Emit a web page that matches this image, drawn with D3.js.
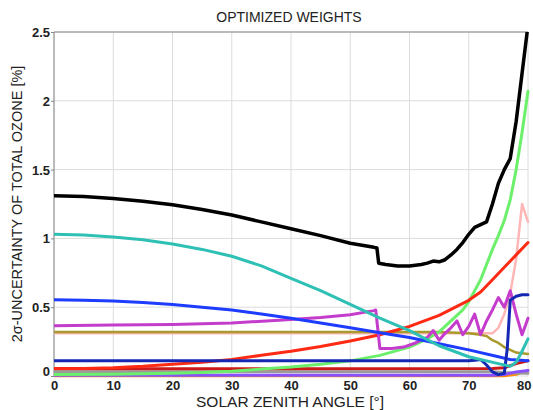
<!DOCTYPE html>
<html>
<head>
<meta charset="utf-8">
<script src="https://cdn.jsdelivr.net/npm/d3@7"></script>
<style>
  html, body { margin: 0; padding: 0; background: #fff; }
  svg { display: block; }
  text { font-family: "Liberation Sans", Arial, sans-serif; fill: #222; }
</style>
</head>
<body>
<svg id="chart" width="533" height="410"></svg>
<script>
// ---------- data ----------
const title = "OPTIMIZED WEIGHTS";
const xLabel = "SOLAR ZENITH ANGLE [°]";
const yLabel = "2σ-UNCERTAINTY OF TOTAL OZONE [%]";
const xTicks = [0, 10, 20, 30, 40, 50, 60, 70, 80];
const yTicks = [0, 0.5, 1, 1.5, 2, 2.5];

const blackX = [0, 5, 10, 15, 20, 25, 30, 35, 40, 45, 50, 52, 54, 54.5, 54.8, 56, 58, 60, 62, 63, 64, 65, 66, 67, 68, 69, 70, 71, 72, 73, 74, 75, 76, 77, 78, 79, 80];
const blackY = [1.31, 1.305, 1.29, 1.27, 1.245, 1.21, 1.17, 1.12, 1.07, 1.02, 0.965, 0.95, 0.935, 0.93, 0.82, 0.81, 0.80, 0.80, 0.81, 0.82, 0.835, 0.83, 0.845, 0.88, 0.92, 0.97, 1.03, 1.08, 1.10, 1.12, 1.25, 1.40, 1.50, 1.58, 1.85, 2.2, 2.55];

const cyanX = [0, 5, 10, 15, 20, 25, 30, 35, 40, 45, 50, 55, 60, 65, 70, 75, 77, 78, 79, 80];
const cyanY = [1.03, 1.025, 1.01, 0.99, 0.96, 0.92, 0.87, 0.80, 0.71, 0.62, 0.52, 0.42, 0.33, 0.22, 0.14, 0.09, 0.07, 0.10, 0.18, 0.27];

const blueX = [0, 5, 10, 15, 20, 25, 30, 35, 40, 45, 50, 55, 60, 65, 70, 75, 77, 80];
const blueY = [0.555, 0.55, 0.545, 0.535, 0.52, 0.50, 0.48, 0.45, 0.42, 0.385, 0.35, 0.315, 0.28, 0.235, 0.19, 0.14, 0.12, 0.11];

const navyX = [0, 20, 40, 60, 70, 71, 72, 72.5, 73, 74, 75, 76, 76.5, 77, 78, 79, 80];
const navyY = [0.11, 0.11, 0.11, 0.11, 0.11, 0.115, 0.12, 0.10, 0.08, 0.03, 0.01, 0.02, 0.2, 0.55, 0.58, 0.59, 0.59];

const magentaX = [0, 10, 20, 30, 40, 45, 50, 54, 54.3, 55, 57, 59, 61, 63, 64, 65, 66, 67, 68, 69, 70, 71, 72, 73, 74, 75, 76, 77, 78, 79, 80];
const magentaY = [0.365, 0.37, 0.375, 0.385, 0.41, 0.425, 0.445, 0.475, 0.48, 0.20, 0.20, 0.21, 0.24, 0.28, 0.33, 0.26, 0.31, 0.35, 0.40, 0.30, 0.36, 0.45, 0.30, 0.40, 0.48, 0.57, 0.50, 0.62, 0.45, 0.30, 0.42];

const oliveX = [0, 20, 40, 60, 65, 68, 70, 72, 73, 74, 75, 76, 77, 78, 79, 80];
const oliveY = [0.32, 0.32, 0.32, 0.32, 0.32, 0.315, 0.31, 0.30, 0.29, 0.26, 0.24, 0.21, 0.19, 0.17, 0.165, 0.16];

const redX = [0, 5, 10, 15, 20, 25, 30, 35, 40, 45, 50, 55, 60, 65, 70, 72, 74, 76, 78, 80];
const redY = [0.055, 0.055, 0.06, 0.07, 0.085, 0.10, 0.12, 0.15, 0.18, 0.215, 0.255, 0.30, 0.36, 0.44, 0.55, 0.61, 0.70, 0.79, 0.88, 0.97];

const greenX = [0, 10, 20, 25, 30, 35, 40, 45, 50, 55, 60, 63, 65, 67, 69, 70, 72, 74, 75, 76, 77, 78, 79, 80];
const greenY = [0.01, 0.012, 0.02, 0.025, 0.035, 0.05, 0.065, 0.085, 0.11, 0.15, 0.21, 0.27, 0.32, 0.40, 0.48, 0.54, 0.70, 0.92, 1.02, 1.13, 1.28, 1.50, 1.77, 2.07];

const pinkX = [0, 40, 74, 75, 76, 77, 78, 79, 80];
const pinkY = [0.31, 0.31, 0.31, 0.35, 0.45, 0.60, 0.85, 1.25, 1.12];

const darkRedX = [0, 40, 74, 76, 78, 80];
const darkRedY = [0.052, 0.052, 0.055, 0.06, 0.09, 0.11];

const grayX = [0, 40, 74, 76, 80];
const grayY = [0.03, 0.03, 0.03, 0.025, 0.02];

const purpleX = [0, 40, 74, 76, 78, 80];
const purpleY = [0.005, 0.005, 0.005, 0.01, 0.03, 0.04];

const orangeX = [0, 40, 76, 78, 80];
const orangeY = [0.0, 0.0, 0.0, 0.01, 0.04];

// ---------- layout ----------
const svg = d3.select("#chart");
const m = { left: 54, right: 528, top: 32, bottom: 376 };
const x = d3.scaleLinear().domain([0, 80]).range([m.left, m.right]);
const y = d3.scaleLinear().domain([0, 2.5]).range([m.bottom, m.top]);

svg.append("defs").append("clipPath").attr("id", "clip")
  .append("rect").attr("x", m.left).attr("y", m.top)
  .attr("width", m.right - m.left + 4).attr("height", m.bottom - m.top + 2);

// grid
const grid = svg.append("g");
grid.selectAll(".vx").data(xTicks).join("line")
  .attr("x1", d => x(d)).attr("x2", d => x(d))
  .attr("y1", m.top).attr("y2", m.bottom)
  .attr("stroke", "#dcdcdc").attr("stroke-width", 1);
grid.selectAll(".hy").data(yTicks).join("line")
  .attr("x1", m.left).attr("x2", m.right)
  .attr("y1", d => y(d)).attr("y2", d => y(d))
  .attr("stroke", "#dcdcdc").attr("stroke-width", 1);

// frame (top + left)
svg.append("line").attr("x1", m.left).attr("x2", m.right).attr("y1", m.top).attr("y2", m.top)
  .attr("stroke", "#888").attr("stroke-width", 1);
svg.append("line").attr("x1", m.left).attr("x2", m.left).attr("y1", m.top).attr("y2", m.bottom)
  .attr("stroke", "#888").attr("stroke-width", 1);

// axes
const yAxis = d3.axisLeft(y).tickValues(yTicks).tickSize(3).tickFormat(d3.format("~g"));
const gy = svg.append("g").attr("transform", `translate(${m.left},0)`).call(yAxis);
gy.select(".domain").remove();
gy.selectAll("line").attr("stroke", "#888");
gy.selectAll("text").attr("font-size", 13).attr("font-weight", "bold").attr("fill", "#333")
  .attr("x", -4).attr("dy", "0.35em");
gy.selectAll(".tick").filter(d => d === 0).select("text").attr("dy", "-0.05em");

const xAxis = d3.axisBottom(x).tickValues(xTicks).tickSize(0).tickFormat(d3.format("~g"));
const gx = svg.append("g").attr("transform", `translate(0,${m.bottom})`).call(xAxis);
gx.select(".domain").remove();
gx.selectAll("text").attr("font-size", 13).attr("font-weight", "bold").attr("fill", "#333")
  .attr("y", 5).attr("dy", "0.71em");
gx.selectAll(".tick").filter(d => d === 80).select("text").attr("text-anchor", "end").attr("dx", "3");

// series
const series = [
  { xs: orangeX, ys: orangeY, color: "#ff8c00", w: 2.5 },
  { xs: grayX, ys: grayY, color: "#9a9a9a", w: 3 },
  { xs: purpleX, ys: purpleY, color: "#8a4fff", w: 3 },
  { xs: darkRedX, ys: darkRedY, color: "#cc1a1a", w: 3 },
  { xs: pinkX, ys: pinkY, color: "#ffb6b6", w: 2.5 },
  { xs: oliveX, ys: oliveY, color: "#a89a2e", w: 2.5 },
  { xs: greenX, ys: greenY, color: "#6cf06c", w: 3 },
  { xs: redX, ys: redY, color: "#ff2a14", w: 3 },
  { xs: magentaX, ys: magentaY, color: "#c43ccc", w: 3 },
  { xs: blueX, ys: blueY, color: "#1e3cff", w: 3 },
  { xs: navyX, ys: navyY, color: "#1428b4", w: 3 },
  { xs: cyanX, ys: cyanY, color: "#2ec0b4", w: 3 },
  { xs: blackX, ys: blackY, color: "#000000", w: 3.5 }
];

const line = d3.line().x(d => x(d[0])).y(d => y(d[1]));
const plot = svg.append("g").attr("clip-path", "url(#clip)");
series.forEach(s => {
  plot.append("path")
    .datum(s.xs.map((v, i) => [v, s.ys[i]]))
    .attr("d", line)
    .attr("fill", "none")
    .attr("stroke", s.color)
    .attr("stroke-width", s.w)
    .attr("stroke-linejoin", "round")
    .attr("stroke-linecap", "round");
});

// titles
svg.append("text").attr("x", 289).attr("y", 22).attr("text-anchor", "middle")
  .attr("font-size", 14).attr("fill", "#222").text(title);
svg.append("text").attr("x", 290).attr("y", 407).attr("text-anchor", "middle")
  .attr("font-size", 15.5).attr("fill", "#222").text(xLabel);
svg.append("text").attr("transform", `translate(22,${(m.top + m.bottom) / 2}) rotate(-90)`)
  .attr("text-anchor", "middle").attr("font-size", 14.5).attr("fill", "#222").text(yLabel);
</script>
</body>
</html>
